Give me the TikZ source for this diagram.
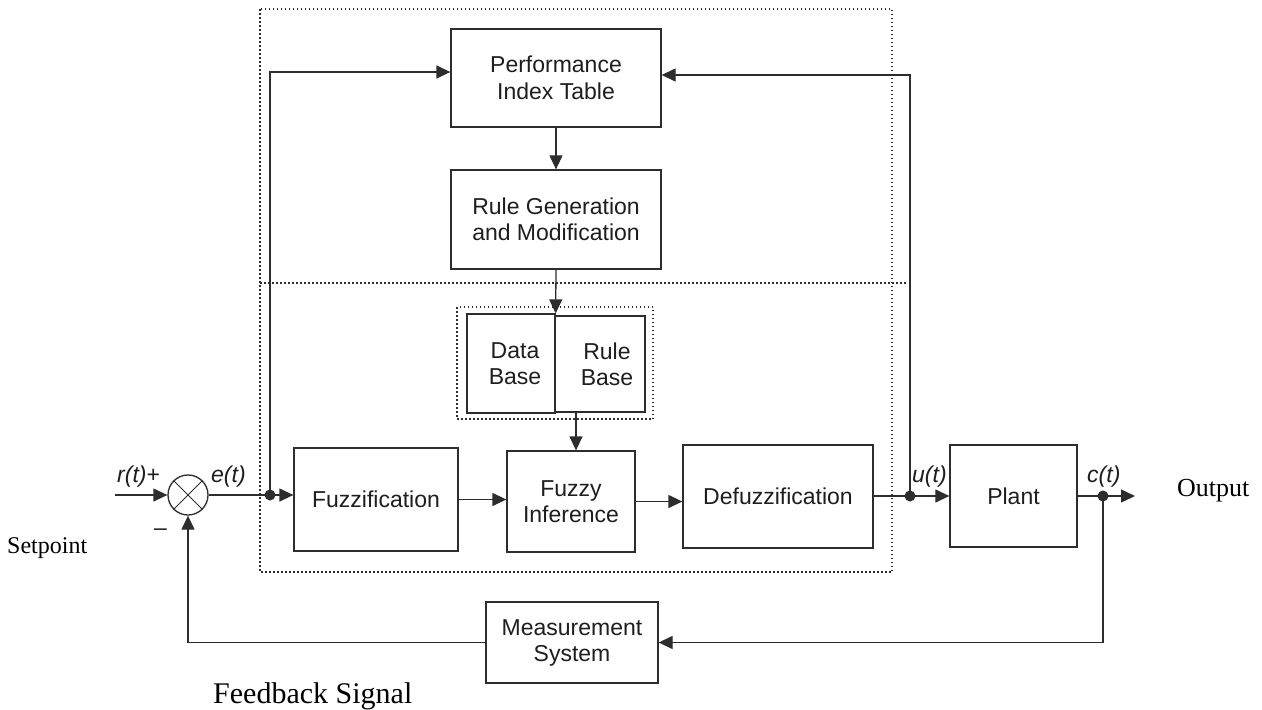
\documentclass[tikz,border=0pt]{standalone}
\usepackage{fontspec}
\newfontfamily\sfarial{Liberation Sans}
\newfontfamily\serifT{Liberation Serif}
\usetikzlibrary{arrows.meta}
\definecolor{linec}{RGB}{45,45,45}
\definecolor{textc}{RGB}{30,30,30}
\tikzset{
  blk/.style={draw=linec, line width=1.3pt, inner sep=0pt, align=center, text=textc,
              font=\sfarial\fontsize{23}{26}\selectfont},
  conn/.style={draw=linec, line width=1.3pt},
  arr/.style={conn, -{Triangle[length=14pt,width=13pt]}},
  dotbox/.style={draw=linec, line width=1.2pt, dash pattern=on 1.5pt off 2.5pt},
  jdot/.style={circle, fill=linec, inner sep=0pt, minimum size=11pt},
  sig/.style={inner sep=0pt, anchor=base west, text=textc, font=\sfarial\fontsize{23}{26}\selectfont},
  serl/.style={inner sep=0pt, anchor=base west, text=black},
}
\begin{document}
\begin{tikzpicture}[x=1pt,y=-1pt]
\useasboundingbox (0,0) rectangle (1262,710);
\fill[white] (0,0) rectangle (1262,710);

% dotted regions
\draw[dotbox] (260,9) rectangle (892,572);
\draw[dotbox] (260,283) -- (908,283);
\draw[dotbox] (457,307) rectangle (653,419);

% blocks
\node[blk, minimum width=210pt, minimum height=98pt, font=\sfarial\fontsize{23}{27}\selectfont] (pit) at (556,78) {Performance\\Index Table};
\node[blk, minimum width=210pt, minimum height=99pt] (rg) at (556,219.5) {Rule Generation\\and Modification};
\node[blk, minimum width=88pt, minimum height=99pt] (db) at (511,363.5) {\hspace*{8pt}Data\\\hspace*{8pt}Base};
\node[blk, minimum width=90pt, minimum height=96pt] (rb) at (600,364) {\hspace*{14pt}Rule\\\hspace*{14pt}Base};
\node[blk, minimum width=164pt, minimum height=103pt] (fz) at (376,499.5) {Fuzzification};
\node[blk, minimum width=128pt, minimum height=101pt] (fi) at (571,501.5) {Fuzzy\\Inference};
\node[blk, minimum width=190pt, minimum height=103pt] (df) at (778,496.5) {Defuzzification};
\node[blk, minimum width=127pt, minimum height=102pt] (pl) at (1013.5,496) {Plant};
\node[blk, minimum width=172pt, minimum height=81pt] (ms) at (572,642.5) {Measurement\\System};

% summing junction
\node[circle, draw=linec, line width=1.3pt, minimum size=40pt, inner sep=0pt] (sum) at (188,495) {};
\draw[conn, line width=1pt] (sum.north west) -- (sum.south east);
\draw[conn, line width=1pt] (sum.north east) -- (sum.south west);

% junctions and free ends
\node[jdot] (ej) at (270,495) {};
\node[jdot] (uj) at (910,496) {};
\node[jdot] (cj) at (1103,496) {};
\coordinate (rin) at (115,495);
\coordinate (cout) at (1135,496);
\coordinate (rbout) at (576,412);

% connectors
\draw[arr] (rin) -- (sum.west);
\draw[conn] (sum.east) -- (ej.center);
\draw[arr] (ej.center) -- (ej.center -| fz.west);
\draw[arr] (ej.center) |- ([yshift=6pt]pit.west);
\draw[arr] (pit.south) -- (rg.north);
\draw[arr] (rg.south) -- (db.north east);
\draw[arr] (rbout) -- (rbout |- fi.north);
\draw[arr] (fz.east) -- (fz.east -| fi.west);
\draw[arr] (fi.east) -- (fi.east -| df.west);
\draw[conn] (df.east |- uj.center) -- (uj.center);
\draw[arr] (uj.center) -- (uj.center -| pl.west);
\draw[arr] (uj.center) |- ([yshift=3pt]pit.east);
\draw[conn] (pl.east |- cj.center) -- (cj.center);
\draw[arr] (cj.center) -- (cout);
\draw[arr] (cj.center) |- (ms.east);
\draw[arr] (ms.west) -| (sum.south);

% signal labels
\node[sig] (lr) at (117,482) {\itshape r(t)\upshape +};
\node[sig] (le) at (211,482) {\itshape e(t)};
\node[sig] (lm) at (154,535) {\textendash};
\node[sig] (lu) at (912,482) {\itshape u(t)};
\node[sig] (lc) at (1087,482) {\itshape c(t)};

% serif annotations
\node[serl, font=\serifT\fontsize{24}{28}\selectfont] (sp) at (7,553) {Setpoint};
\node[serl, font=\serifT\fontsize{26}{30}\selectfont] (op) at (1177,496) {Output};
\node[serl, font=\serifT\fontsize{30}{34}\selectfont] (fb) at (213,703) {Feedback Signal};
\end{tikzpicture}
\end{document}
